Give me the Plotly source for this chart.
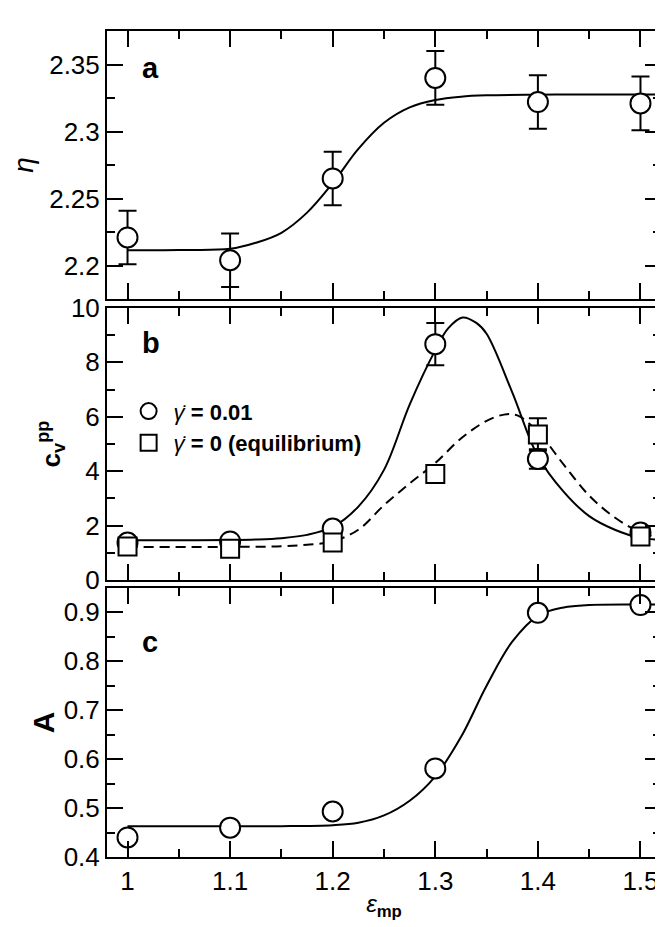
import plotly.graph_objects as go

# ---------------- data ----------------
eps_pts = [1.0, 1.1, 1.2, 1.3, 1.4, 1.5]

eta_vals = [2.221, 2.204, 2.265, 2.340, 2.322, 2.321]
eta_err = [0.02, 0.02, 0.02, 0.02, 0.02, 0.02]

cv_shear = [1.38, 1.42, 1.89, 8.67, 4.45, 1.75]
cv_shear_err = [0.0, 0.0, 0.0, 0.78, 0.36, 0.0]
cv_eq = [1.23, 1.15, 1.38, 3.90, 5.35, 1.60]
cv_eq_err = [0.0, 0.0, 0.0, 0.15, 0.60, 0.0]

A_vals = [0.440, 0.460, 0.493, 0.581, 0.899, 0.915]

# fitted curves
eta_fit_x = [1.0, 1.05, 1.1, 1.125, 1.15, 1.175, 1.2, 1.225, 1.25, 1.275, 1.3, 1.325, 1.35, 1.4, 1.45, 1.52]
eta_fit_y = [2.2115, 2.2117, 2.2125, 2.217, 2.2245, 2.2395, 2.2615, 2.2870, 2.3065, 2.3180, 2.3235, 2.3260, 2.3270, 2.3275, 2.3277, 2.3277]

cv_shear_fit_x = [1.0, 1.05, 1.1, 1.125, 1.15, 1.175, 1.2, 1.225, 1.25, 1.275, 1.3, 1.3125, 1.3265, 1.34, 1.35, 1.375, 1.4, 1.425, 1.45, 1.475, 1.5, 1.52]
cv_shear_fit_y = [1.46, 1.46, 1.47, 1.49, 1.54, 1.66, 1.95, 2.70, 4.05, 6.45, 8.45, 9.25, 9.65, 9.45, 9.05, 6.90, 4.55, 3.25, 2.35, 1.85, 1.55, 1.48]

cv_eq_fit_x = [1.0, 1.1, 1.15, 1.175, 1.2, 1.225, 1.25, 1.275, 1.3, 1.325, 1.35, 1.367, 1.38, 1.4, 1.425, 1.45, 1.475, 1.5, 1.52]
cv_eq_fit_y = [1.22, 1.22, 1.24, 1.30, 1.42, 1.85, 2.75, 3.55, 4.30, 5.20, 5.85, 6.08, 6.05, 5.45, 4.25, 3.10, 2.30, 1.75, 1.55]

A_fit_x = [1.0, 1.1, 1.15, 1.2, 1.225, 1.25, 1.275, 1.3, 1.325, 1.35, 1.375, 1.4, 1.425, 1.45, 1.5, 1.52]
A_fit_y = [0.463, 0.463, 0.463, 0.465, 0.470, 0.485, 0.515, 0.565, 0.645, 0.750, 0.840, 0.893, 0.910, 0.915, 0.916, 0.916]

x_tickvals = [1.0, 1.1, 1.2, 1.3, 1.4, 1.5]
x_ticktext = ["1", "1.1", "1.2", "1.3", "1.4", "1.5"]

legend_names = ["<i>γ̇</i><b> = 0.01</b>", "<i>γ̇</i><b> = 0 (equilibrium)</b>"]
panel_letters = ["a", "b", "c"]

# ---------------- figure ----------------
FONT = "Liberation Sans, Arial, sans-serif"
fig = go.Figure()

line_style = dict(color="black", width=2)
circ = dict(symbol="circle", size=20, color="white", line=dict(color="black", width=2))
sq = dict(symbol="square", size=18, color="white", line=dict(color="black", width=2))


def err(vals):
    return dict(type="data", array=vals, visible=True, color="black", thickness=2, width=9)


# panel a
fig.add_trace(go.Scatter(x=eta_fit_x, y=eta_fit_y, mode="lines", line=dict(shape="spline", **line_style),
                         xaxis="x", yaxis="y", showlegend=False, hoverinfo="skip"))
fig.add_trace(go.Scatter(x=eps_pts, y=eta_vals, error_y=err(eta_err), mode="markers", marker=circ,
                         xaxis="x", yaxis="y", showlegend=False))

# panel b
fig.add_trace(go.Scatter(x=cv_shear_fit_x, y=cv_shear_fit_y, mode="lines", line=dict(shape="spline", **line_style),
                         xaxis="x2", yaxis="y2", showlegend=False, hoverinfo="skip"))
fig.add_trace(go.Scatter(x=cv_eq_fit_x, y=cv_eq_fit_y, mode="lines",
                         line=dict(shape="spline", dash="10px,6px", **line_style),
                         xaxis="x2", yaxis="y2", showlegend=False, hoverinfo="skip"))
fig.add_trace(go.Scatter(x=eps_pts, y=cv_shear, error_y=err(cv_shear_err), mode="markers", marker=circ,
                         xaxis="x2", yaxis="y2", name=legend_names[0], showlegend=True))
fig.add_trace(go.Scatter(x=eps_pts, y=cv_eq, error_y=err(cv_eq_err), mode="markers", marker=sq,
                         xaxis="x2", yaxis="y2", name=legend_names[1], showlegend=True))

# panel c
fig.add_trace(go.Scatter(x=A_fit_x, y=A_fit_y, mode="lines", line=dict(shape="spline", **line_style),
                         xaxis="x3", yaxis="y3", showlegend=False, hoverinfo="skip"))
fig.add_trace(go.Scatter(x=eps_pts, y=A_vals, mode="markers", marker=circ,
                         xaxis="x3", yaxis="y3", showlegend=False))

tickfont = dict(family=FONT, size=26, color="black")


def xax(anchor, labels, title=None):
    d = dict(range=[0.98, 1.52], anchor=anchor, showline=True, linecolor="black", linewidth=2,
             mirror="ticks", ticks="inside", ticklen=16, tickwidth=2, tickcolor="black",
             tickvals=x_tickvals, ticktext=x_ticktext, showticklabels=labels, tickfont=tickfont,
             minor=dict(dtick=0.05, tick0=1.0, ticks="inside", ticklen=8, tickwidth=2, tickcolor="black"),
             showgrid=False, zeroline=False)
    if title:
        d["title"] = dict(text=title, font=dict(family=FONT, size=24, color="black"), standoff=0)
    return d


def yax(domain, rng, dtick, tick0, mdtick, title, tsize, standoff, anchor):
    return dict(domain=domain, range=rng, anchor=anchor, showline=True, linecolor="black", linewidth=2,
                mirror="ticks", ticks="inside", ticklen=16, tickwidth=2, tickcolor="black",
                dtick=dtick, tick0=tick0, tickfont=tickfont,
                minor=dict(dtick=mdtick, tick0=tick0, ticks="inside", ticklen=8, tickwidth=2, tickcolor="black"),
                showgrid=False, zeroline=False,
                title=dict(text=title, font=dict(family=FONT, size=tsize, color="black"), standoff=standoff))


ya = yax([0.6754, 1.0], [2.175, 2.375], 0.05, 2.2, 0.025, "<i>η</i>", 28, 11, "x")
yb = yax([0.3353, 0.6647], [0, 10], 2, 0, 1, "<b>c<sub>v</sub><sup>pp</sup></b>", 26, 3, "x2")
yc = yax([0.0, 0.3258], [0.4, 0.95], 0.1, 0.4, 0.05, "<b>A</b>", 30, 0, "x3")

annotations = []
letter_y = [1.0 - 38 / 841, 0.6647 - 36 / 841, 0.3258 - 55 / 841]
for letter, yy in zip(panel_letters, letter_y):
    annotations.append(dict(text="<b>%s</b>" % letter, xref="paper", yref="paper", x=33 / 555, y=yy,
                            xanchor="left", yanchor="middle", showarrow=False,
                            font=dict(family=FONT, size=29, color="black")))

fig.update_layout(
    width=663, height=927,
    margin=dict(l=99, r=9, t=8, b=78),
    plot_bgcolor="white", paper_bgcolor="white",
    xaxis=xax("y", False), xaxis2=xax("y2", False),
    xaxis3=xax("y3", True, "<i>ε</i><sub><b>mp</b></sub>"),
    yaxis=ya, yaxis2=yb, yaxis3=yc,
    showlegend=True,
    legend=dict(x=0.03, y=0.565, xanchor="left", yanchor="top", bgcolor="rgba(0,0,0,0)",
                font=dict(family=FONT, size=22, color="black"), itemsizing="trace",
                itemwidth=40, tracegroupgap=0),
    annotations=annotations,
)

fig.write_html("out.html")
